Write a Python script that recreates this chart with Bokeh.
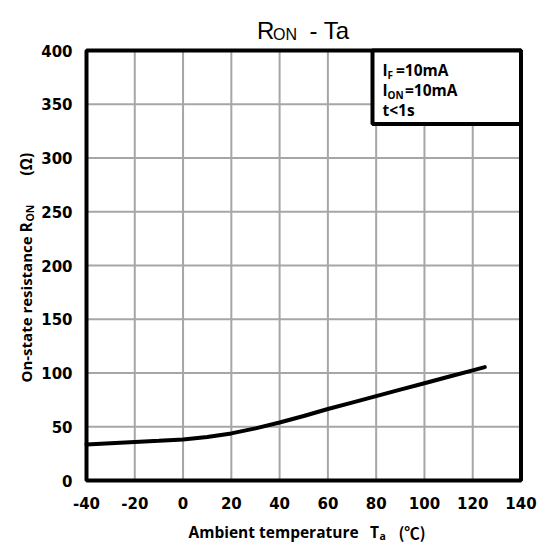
from bokeh.plotting import figure
from bokeh.models import Label
from bokeh.embed import file_html
from bokeh.resources import INLINE
import math

# ---- data ----
temps = [-40, -30, -20, -10, 0, 10, 20, 30, 40, 50, 60, 70, 80, 90, 100, 110, 120, 125]
r_on = [33.5, 34.7, 35.8, 36.9, 38.2, 40.5, 43.8, 48.5, 54, 60, 66.5, 72.5, 78.5, 84.5, 90.5, 96.5, 102.5, 105.5]
x_ticks = [-40, -20, 0, 20, 40, 60, 80, 100, 120, 140]
y_ticks = [0, 50, 100, 150, 200, 250, 300, 350, 400]
x_tick_labels = [str(t) for t in x_ticks]
y_tick_labels = [str(t) for t in y_ticks]
conditions = [("I", "F", "=10mA"), ("I", "ON", "=10mA"), ("t<1s", "", "")]

X0, X1, Y0, Y1 = -40, 140, 0, 400
W, H = 547, 543
# plot-area placement on the canvas (px)
FL, FR, FT, FB = 86, 520.5, 50, 480
SX = (FR - FL) / (X1 - X0)
SY = (FB - FT) / (Y1 - Y0)

p = figure(width=W, height=H,
           x_range=(X0 - FL / SX, X1 + (W - FR) / SX),
           y_range=(Y0 - (H - FB) / SY, Y1 + FT / SY),
           output_backend="svg", toolbar_location=None,
           x_axis_location=None, y_axis_location=None, title_location=None,
           min_border_left=0, min_border_right=0, min_border_top=0, min_border_bottom=0)
p.background_fill_color = "white"
p.border_fill_color = "white"
p.outline_line_color = None
p.xgrid.visible = False
p.ygrid.visible = False


def dx(px):
    return X0 + (px - FL) / SX


def dy(py):
    return Y0 + (FB - py) / SY


GRID = "#a6a6a6"
# grid lines at the tick positions
p.segment(x0=x_ticks, y0=[Y0] * len(x_ticks), x1=x_ticks, y1=[Y1] * len(x_ticks),
          line_color=GRID, line_width=2)
p.segment(x0=[X0] * len(y_ticks), y0=y_ticks, x1=[X1] * len(y_ticks), y1=y_ticks,
          line_color=GRID, line_width=2)

# curve
p.line(temps, r_on, line_color="black", line_width=4, line_cap="round")

# plot frame
p.quad(left=[X0], right=[X1], bottom=[Y0], top=[Y1], fill_color=None,
       line_color="black", line_width=4)

# tick labels
TKF = "DejaVu Sans"
p.text(x=x_ticks, y=[dy(502)] * len(x_ticks), text=x_tick_labels,
       text_font={"value": TKF}, text_font_style="bold", text_font_size="15px",
       text_align="center", text_baseline="middle", text_color="black")
p.text(x=[dx(72)] * len(y_ticks), y=y_ticks, text=y_tick_labels,
       text_font={"value": TKF}, text_font_style="bold", text_font_size="15px",
       text_align="right", text_baseline="middle", text_color="black")


def lab(text, px, py, font, size, bold=False, angle=0.0):
    p.add_layout(Label(x=dx(px), y=dy(py), text=text, text_font=font,
                       text_font_size=f"{size}px",
                       text_font_style="bold" if bold else "normal",
                       text_color="black", text_baseline="middle",
                       text_align="left", angle=angle))


# conditions box
p.quad(left=[dx(372)], right=[X1], bottom=[dy(123.5)], top=[Y1],
       fill_color="white", line_color="black", line_width=4)
LF = "Open Sans"
mid = [69.9, 89.9, 109.2]
for (main, sub, rest), my in zip(conditions, mid):
    lab(main, 382, my, LF, 15.5, True)
    if sub:
        lab(sub, 387, my + 4.5, LF, 10, True)
        lab(rest, 395.5 if sub == "F" else 404.5, my, LF, 15.5, True)

# title
TF = "Liberation Sans"
lab("R", 256.5, 29.6, TF, 24)
lab("ON", 272.5, 33.5, TF, 16)
lab("- Ta", 309, 29.6, TF, 24)

# x axis title
lab("Ambient temperature", 188, 531, LF, 15.5, True)
lab("T", 369.5, 531, LF, 15.5, True)
lab("a", 379, 535.5, LF, 10.5, True)
lab("(℃)", 398, 531, "Noto Sans CJK JP", 15.5, True)

# y axis title (rotated)
A = math.pi / 2
lab("On-state resistance", 25, 382, LF, 15, True, A)
lab("R", 25, 232, LF, 15.5, True, A)
lab("ON", 29, 221, LF, 10.5, True, A)
lab("(Ω)", 25, 175, LF, 15.5, True, A)

open("out.html", "w").write(file_html(p, INLINE))
